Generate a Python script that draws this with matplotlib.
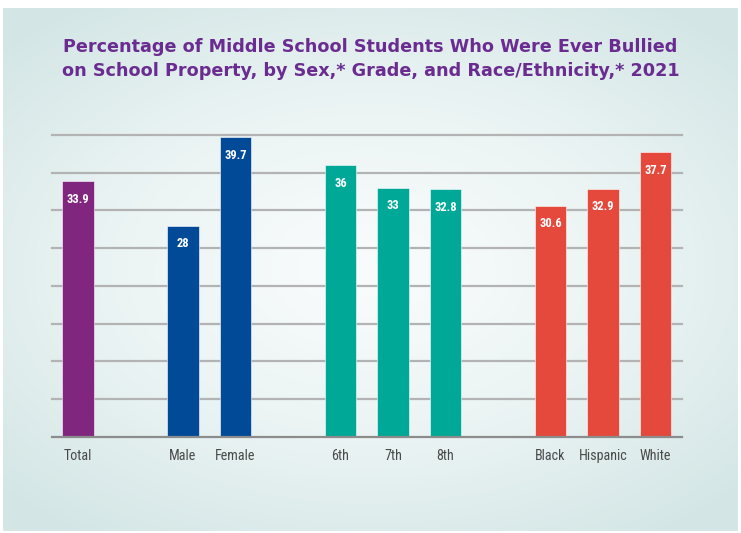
import numpy as np
import matplotlib.pyplot as plt
from matplotlib.colors import LinearSegmentedColormap

categories = ["Total", "Male", "Female", "6th", "7th", "8th", "Black", "Hispanic", "White"]
values = [33.9, 28, 39.7, 36, 33, 32.8, 30.6, 32.9, 37.7]
value_labels = ["33.9", "28", "39.7", "36", "33", "32.8", "30.6", "32.9", "37.7"]
slots = [0, 2, 3, 5, 6, 7, 9, 10, 11]
colors = ["#80267f", "#004a98", "#004a98", "#00a898", "#00a898", "#00a898",
          "#e5493c", "#e5493c", "#e5493c"]
title = ("Percentage of Middle School Students Who Were Ever Bullied\n"
         "on School Property, by Sex,* Grade, and Race/Ethnicity,* 2021")

fig = plt.figure(figsize=(7.41, 5.33), dpi=100)
fig.patch.set_facecolor("white")

# radial gradient panel
bg = fig.add_axes([3/741, 2/533, 735/741, 523/533])
yy, xx = np.mgrid[-1:1:300j, -1:1:400j]
r = np.sqrt((xx * 0.9) ** 2 + (yy * 1.0) ** 2)
cmap = LinearSegmentedColormap.from_list("bg", ["#f8fbfb", "#eaf3f3", "#d3e6e5"])
bg.imshow(r, cmap=cmap, aspect="auto", vmin=0.1, vmax=1.25, extent=[0, 1, 0, 1])
bg.axis("off")

ax = fig.add_axes([51.7/741, 96.3/533, 630/741, 301.7/533])
ax.set_facecolor("none")
for g in range(5, 45, 5):
    ax.axhline(g, color="#b3b3b3", lw=1.6, zorder=1, clip_on=False)
ax.axhline(0, color="#8c8c8c", lw=1.6, zorder=3, clip_on=False)

ax.bar(slots, values, width=0.6, color=colors, zorder=2,
       edgecolor="#ffffff", linewidth=0.4)
for s, v, lab in zip(slots, values, value_labels):
    ax.annotate(lab, (s, v), xytext=(0, -13), textcoords="offset points",
                ha="center", va="center", color="white", fontsize=9,
                fontweight="bold", family="Roboto Condensed", zorder=4)

ax.set_xlim(-0.5, 11.5)
ax.set_ylim(0, 40)
ax.set_xticks(slots)
ax.set_xticklabels(categories, color="#4a4a4a", fontsize=10.2,
                   family="Roboto Condensed")
ax.tick_params(axis="x", length=0, pad=8.5)
ax.set_yticks([])
for sp in ax.spines.values():
    sp.set_visible(False)

fig.text(0.5, 1 - 59/533, title, ha="center", va="center", color="#6a2c91",
         fontsize=12.7, fontweight="bold", family="DejaVu Sans", linespacing=1.42)

fig.savefig("out.png", dpi=100)
